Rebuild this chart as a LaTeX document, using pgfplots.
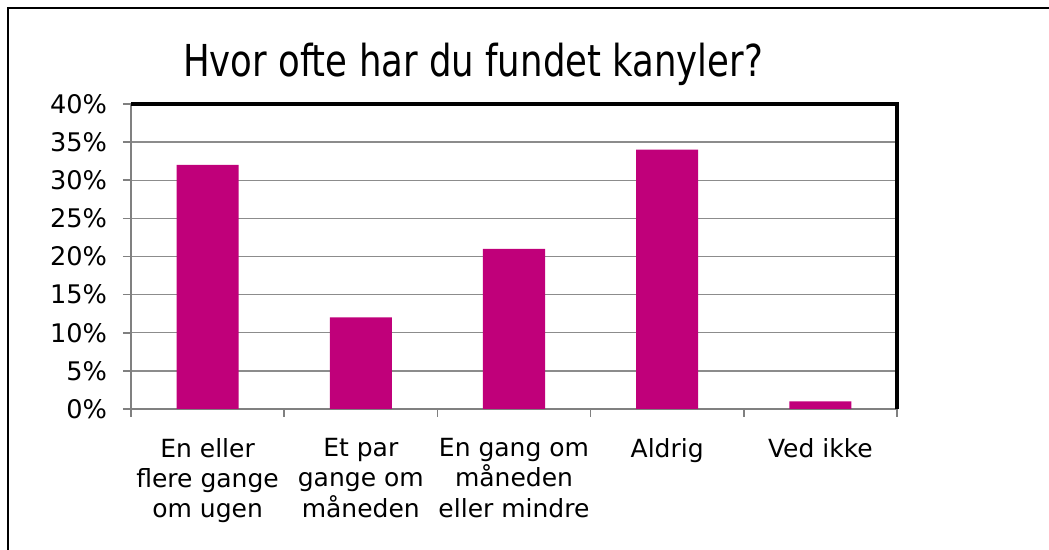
\documentclass[border=0pt]{standalone}
\usepackage{pgfplots}
\pgfplotsset{compat=1.18}
\usepackage{graphicx}
\usepackage{fontspec}
\setmainfont{DejaVu Sans}
\definecolor{barmag}{RGB}{192,0,122}
\definecolor{gridg}{RGB}{140,140,140}
\definecolor{axg}{RGB}{128,128,128}
\begin{document}
\begin{tikzpicture}[x=0.5pt,y=0.5pt]
\useasboundingbox (0,0) rectangle (1049,550);
\draw[line width=1pt] (8,0) -- (8,542) -- (1049,542);
\node[anchor=base] at (473,473) {\resizebox{290pt}{\height}{\fontsize{22}{26}\selectfont Hvor ofte har du fundet kanyler?}};
\begin{axis}[
  at={(65.5pt,70.5pt)}, anchor=south west,
  width=383pt, height=152.5pt, scale only axis,
  xmin=-0.5, xmax=4.5, ymin=0, ymax=40,
  axis x line*=bottom, axis y line*=left,
  x axis line style={draw=axg, line width=1.4pt, -},
  y axis line style={draw=axg, line width=1pt, -},
  ytick={0,5,...,40},
  yticklabels={0\%,5\%,10\%,15\%,20\%,25\%,30\%,35\%,40\%},
  ymajorgrids, grid style={draw=gridg, line width=0.7pt},
  xtick={0,1,2,3,4},
  xticklabels={En eller\\flere gange\\om ugen, Et par\\gange om\\måneden, En gang om\\måneden\\eller mindre, Aldrig, Ved ikke},
  xticklabel style={align=center, font=\fontsize{12.5}{15.2}\selectfont, anchor=north, yshift=-7pt},
  yticklabel style={font=\fontsize{12.8}{15}\selectfont, xshift=-4.5pt},
  minor xtick={-0.5,0.5,1.5,2.5,3.5,4.5},
  tick align=outside,
  major x tick style={draw=none},
  minor x tick style={draw=axg, line width=0.8pt},
  y tick style={draw=axg, line width=0.8pt},
  major tick length=4pt, minor tick length=4pt,
  clip=false,
]
\addplot[ybar, bar width=0.405, fill=barmag, draw=none] coordinates {(0,32) (1,12) (2,21) (3,34) (4,1)};
\draw[line width=1.6pt, black] (rel axis cs:0,1) -- (rel axis cs:1,1) -- (rel axis cs:1,0);
\end{axis}
\end{tikzpicture}
\end{document}
